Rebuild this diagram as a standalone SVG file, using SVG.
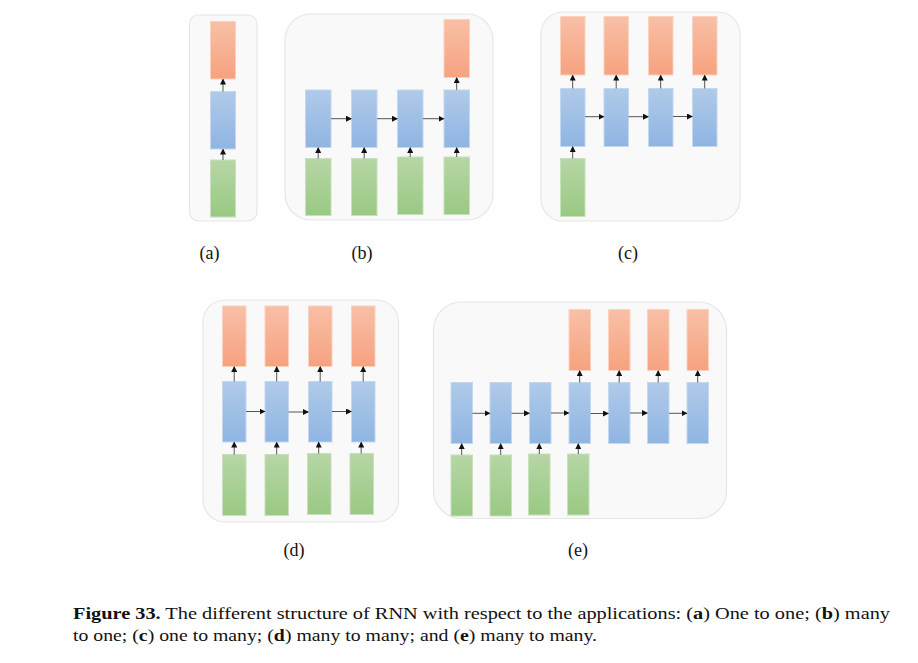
<svg xmlns="http://www.w3.org/2000/svg" width="918" height="663" viewBox="0 0 918 663">
<style>
.panel{fill:#f9f9f9;stroke:#e6e6e6;stroke-width:1.2}
.o{fill:url(#go);stroke:#fbd2c0;stroke-width:1}
.b{fill:url(#gb);stroke:#c3d7ef;stroke-width:1}
.g{fill:url(#gg);stroke:#c8e0bb;stroke-width:1}
.c{stroke:#555;stroke-width:1;fill:none;marker-end:url(#ah)}
.lbl{font-family:"Liberation Serif",serif;font-size:18px;fill:#111}
.cap{font-family:"Liberation Serif",serif;font-size:16.5px;fill:#111}
</style>
<defs>
<linearGradient id="go" x1="0" y1="0" x2="0" y2="1"><stop offset="0" stop-color="#f8c0a7"/><stop offset="1" stop-color="#f6a27f"/></linearGradient>
<linearGradient id="gb" x1="0" y1="0" x2="0" y2="1"><stop offset="0" stop-color="#b0cae9"/><stop offset="1" stop-color="#8fb5e2"/></linearGradient>
<linearGradient id="gg" x1="0" y1="0" x2="0" y2="1"><stop offset="0" stop-color="#b7d6a6"/><stop offset="1" stop-color="#99c983"/></linearGradient>
<marker id="ah" markerWidth="6" markerHeight="6" refX="5" refY="3" orient="auto" markerUnits="userSpaceOnUse"><path d="M0,0 L6,3 L0,6 Z" fill="#111"/></marker>
</defs>

<!-- Panel backgrounds -->
<g id="panels">
<rect id="panel-a" class="panel" x="189.5" y="15" width="67.5" height="206" rx="9"/>
<rect id="panel-b" class="panel" x="285" y="14" width="208" height="206" rx="26"/>
<rect id="panel-c" class="panel" x="541" y="12" width="199" height="209" rx="22"/>
<rect id="panel-d" class="panel" x="203" y="300" width="195.5" height="222" rx="22"/>
<rect id="panel-e" class="panel" x="433.5" y="302" width="293" height="216.5" rx="28"/>
</g>

<!-- (a) -->
<g id="a-o1"><rect class="o" x="210.5" y="21.5" width="25" height="57.5"/></g>
<g id="a-h1"><rect class="b" x="210.5" y="91.5" width="25" height="57.5"/></g>
<g id="a-x1"><rect class="g" x="210.5" y="160" width="25" height="57"/></g>

<!-- (b) -->
<g id="b-h1"><rect class="b" x="305.5" y="90" width="25.5" height="57.5"/></g>
<g id="b-h2"><rect class="b" x="351.5" y="90" width="25.5" height="57.5"/></g>
<g id="b-h3"><rect class="b" x="397.5" y="90" width="25.5" height="57.5"/></g>
<g id="b-h4"><rect class="b" x="444" y="90" width="25.5" height="57.5"/></g>
<g id="b-x1"><rect class="g" x="305.5" y="158.5" width="25.5" height="57"/></g>
<g id="b-x2"><rect class="g" x="351.5" y="158.5" width="25.5" height="57"/></g>
<g id="b-x3"><rect class="g" x="397.5" y="157" width="25.5" height="57.5"/></g>
<g id="b-x4"><rect class="g" x="444" y="157" width="25.5" height="57.5"/></g>
<g id="b-o4"><rect class="o" x="444" y="19.5" width="25.5" height="58"/></g>

<!-- (c) -->
<g id="c-o1"><rect class="o" x="560.5" y="16.5" width="24.5" height="58.5"/></g>
<g id="c-o2"><rect class="o" x="604" y="16.5" width="24.5" height="58.5"/></g>
<g id="c-o3"><rect class="o" x="648.5" y="16.5" width="24.5" height="58.5"/></g>
<g id="c-o4"><rect class="o" x="692.5" y="16.5" width="24.5" height="58.5"/></g>
<g id="c-h1"><rect class="b" x="560.5" y="88.5" width="24.5" height="58"/></g>
<g id="c-h2"><rect class="b" x="604" y="88.5" width="24.5" height="58"/></g>
<g id="c-h3"><rect class="b" x="648.5" y="88.5" width="24.5" height="58"/></g>
<g id="c-h4"><rect class="b" x="692.5" y="88.5" width="24.5" height="58"/></g>
<g id="c-x1"><rect class="g" x="560.5" y="158.5" width="24.5" height="58"/></g>

<!-- (d) -->
<g id="d-o1"><rect class="o" x="222.5" y="306" width="23.5" height="60.5"/></g>
<g id="d-o2"><rect class="o" x="265" y="306" width="23.5" height="60.5"/></g>
<g id="d-o3"><rect class="o" x="308.5" y="306" width="23.5" height="60.5"/></g>
<g id="d-o4"><rect class="o" x="351.5" y="306" width="23.5" height="60.5"/></g>
<g id="d-h1"><rect class="b" x="222.5" y="381.5" width="23.5" height="60.5"/></g>
<g id="d-h2"><rect class="b" x="265" y="381.5" width="23.5" height="60.5"/></g>
<g id="d-h3"><rect class="b" x="308.5" y="381.5" width="23.5" height="60.5"/></g>
<g id="d-h4"><rect class="b" x="351.5" y="381.5" width="23.5" height="60.5"/></g>
<g id="d-x1"><rect class="g" x="222.5" y="454.5" width="23.5" height="61"/></g>
<g id="d-x2"><rect class="g" x="265" y="454.5" width="23.5" height="61"/></g>
<g id="d-x3"><rect class="g" x="307.5" y="453.5" width="23.5" height="61"/></g>
<g id="d-x4"><rect class="g" x="350" y="453.5" width="23.5" height="61"/></g>

<!-- (e) -->
<g id="e-h1"><rect class="b" x="451" y="382.5" width="21.5" height="61"/></g>
<g id="e-h2"><rect class="b" x="490" y="382.5" width="21.5" height="61"/></g>
<g id="e-h3"><rect class="b" x="529.5" y="382.5" width="21.5" height="61"/></g>
<g id="e-h4"><rect class="b" x="569" y="382.5" width="21.5" height="61"/></g>
<g id="e-h5"><rect class="b" x="608.5" y="382.5" width="21.5" height="61"/></g>
<g id="e-h6"><rect class="b" x="647.5" y="382.5" width="21.5" height="61"/></g>
<g id="e-h7"><rect class="b" x="687" y="382.5" width="21.5" height="61"/></g>
<g id="e-o4"><rect class="o" x="569" y="309.5" width="21.5" height="61"/></g>
<g id="e-o5"><rect class="o" x="608.5" y="309.5" width="21.5" height="61"/></g>
<g id="e-o6"><rect class="o" x="647.5" y="309.5" width="21.5" height="61"/></g>
<g id="e-o7"><rect class="o" x="687" y="309.5" width="21.5" height="61"/></g>
<g id="e-x1"><rect class="g" x="451" y="455" width="21.5" height="61"/></g>
<g id="e-x2"><rect class="g" x="490" y="455" width="21.5" height="61"/></g>
<g id="e-x3"><rect class="g" x="528.5" y="454" width="21.5" height="61"/></g>
<g id="e-x4"><rect class="g" x="567.5" y="454" width="21.5" height="61"/></g>

<!-- Connectors -->
<g id="connectors">
<!-- a -->
<line class="c" x1="223" y1="91.5" x2="223" y2="79.5"/>
<line class="c" x1="223" y1="160" x2="223" y2="149.5"/>
<!-- b -->
<line class="c" x1="318.2" y1="158.5" x2="318.2" y2="148"/>
<line class="c" x1="364.2" y1="158.5" x2="364.2" y2="148"/>
<line class="c" x1="410.2" y1="157" x2="410.2" y2="148"/>
<line class="c" x1="456.7" y1="157" x2="456.7" y2="148"/>
<line class="c" x1="456.7" y1="90" x2="456.7" y2="78"/>
<line class="c" x1="331" y1="118.7" x2="351" y2="118.7"/>
<line class="c" x1="377" y1="118.7" x2="397" y2="118.7"/>
<line class="c" x1="423" y1="118.7" x2="443.5" y2="118.7"/>
<!-- c -->
<line class="c" x1="572.7" y1="88.5" x2="572.7" y2="75.5"/>
<line class="c" x1="616.2" y1="88.5" x2="616.2" y2="75.5"/>
<line class="c" x1="660.7" y1="88.5" x2="660.7" y2="75.5"/>
<line class="c" x1="704.7" y1="88.5" x2="704.7" y2="75.5"/>
<line class="c" x1="572.7" y1="158.5" x2="572.7" y2="147"/>
<line class="c" x1="585" y1="116.7" x2="603.5" y2="116.7"/>
<line class="c" x1="628.5" y1="116.7" x2="648" y2="116.7"/>
<line class="c" x1="673" y1="116.5" x2="692" y2="116.5"/>
<!-- d -->
<line class="c" x1="234.2" y1="381.5" x2="234.2" y2="367"/>
<line class="c" x1="276.7" y1="381.5" x2="276.7" y2="367"/>
<line class="c" x1="320.2" y1="381.5" x2="320.2" y2="367"/>
<line class="c" x1="363.2" y1="381.5" x2="363.2" y2="367"/>
<line class="c" x1="234.2" y1="454.5" x2="234.2" y2="442.5"/>
<line class="c" x1="276.7" y1="454.5" x2="276.7" y2="442.5"/>
<line class="c" x1="318.7" y1="453.5" x2="318.7" y2="442.5"/>
<line class="c" x1="361.2" y1="453.5" x2="361.2" y2="442.5"/>
<line class="c" x1="246" y1="411.5" x2="264.5" y2="411.5"/>
<line class="c" x1="288.5" y1="412" x2="308" y2="412"/>
<line class="c" x1="332" y1="411.5" x2="351" y2="411.5"/>
<!-- e -->
<line class="c" x1="461.7" y1="455" x2="461.7" y2="444"/>
<line class="c" x1="500.7" y1="455" x2="500.7" y2="444"/>
<line class="c" x1="539.3" y1="454" x2="539.3" y2="444"/>
<line class="c" x1="578.3" y1="454" x2="578.3" y2="444"/>
<line class="c" x1="579.7" y1="382.5" x2="579.7" y2="371"/>
<line class="c" x1="619.2" y1="382.5" x2="619.2" y2="371"/>
<line class="c" x1="658.2" y1="382.5" x2="658.2" y2="371"/>
<line class="c" x1="697.7" y1="382.5" x2="697.7" y2="371"/>
<line class="c" x1="472.5" y1="413.3" x2="489.5" y2="413.3"/>
<line class="c" x1="511.5" y1="413.3" x2="529" y2="413.3"/>
<line class="c" x1="551" y1="413" x2="568.5" y2="413"/>
<line class="c" x1="590.5" y1="413.5" x2="608" y2="413.5"/>
<line class="c" x1="630" y1="413" x2="647" y2="413"/>
<line class="c" x1="669" y1="413.3" x2="686.5" y2="413.3"/>
</g>

<!-- Labels -->
<g id="labels">
<text class="lbl" x="209.5" y="258.5" text-anchor="middle">(a)</text>
<text class="lbl" x="362" y="258.5" text-anchor="middle">(b)</text>
<text class="lbl" x="628" y="258.5" text-anchor="middle">(c)</text>
<text class="lbl" x="294" y="556" text-anchor="middle">(d)</text>
<text class="lbl" x="578" y="556" text-anchor="middle">(e)</text>
</g>

<!-- Caption -->
<g id="caption">
<text class="cap" x="73" y="619" textLength="817" lengthAdjust="spacingAndGlyphs"><tspan font-weight="bold">Figure 33.</tspan> The different structure of RNN with respect to the applications: (<tspan font-weight="bold">a</tspan>) One to one; (<tspan font-weight="bold">b</tspan>) many</text>
<text class="cap" x="73" y="641" textLength="524" lengthAdjust="spacingAndGlyphs">to one; (<tspan font-weight="bold">c</tspan>) one to many; (<tspan font-weight="bold">d</tspan>) many to many; and (<tspan font-weight="bold">e</tspan>) many to many.</text>
</g>
</svg>
